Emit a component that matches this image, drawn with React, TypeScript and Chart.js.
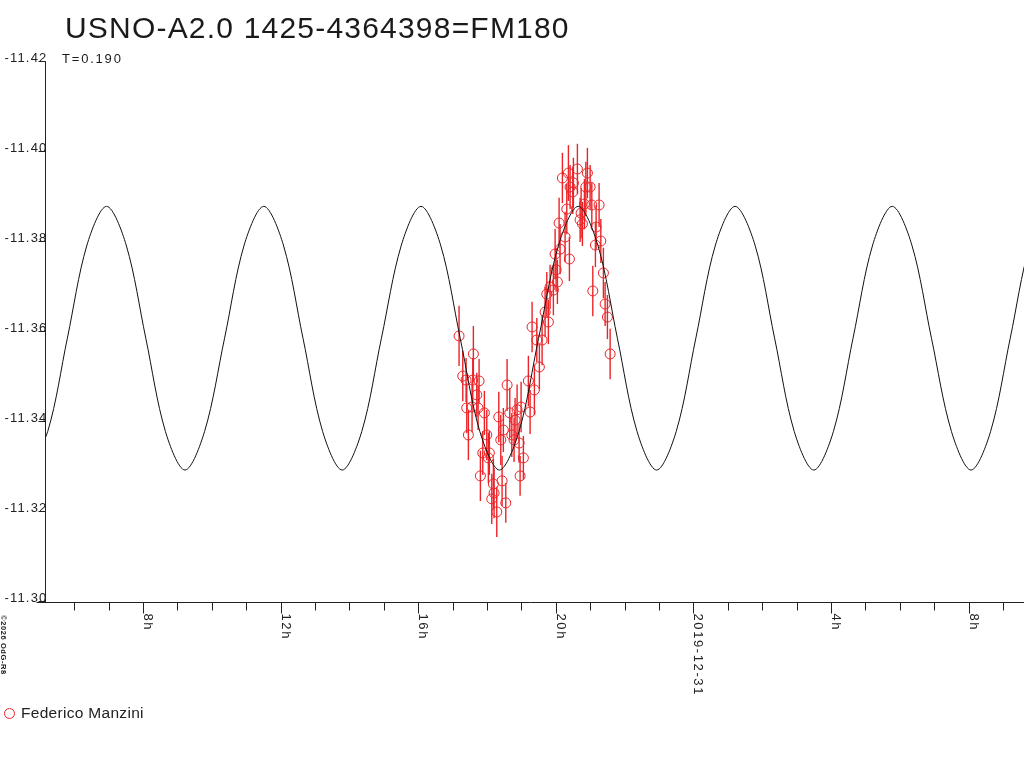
import React, { useEffect, useRef } from "react";
import { Chart, registerables } from "chart.js";

Chart.register(...registerables);

// ---- texts ----
const TITLE = "USNO-A2.0 1425-4364398=FM180";
const SUBTITLE = "T=0.190";
const OBSERVER = "Federico Manzini";
const COPYRIGHT = "©2026 OdG-R8";

// ---- axes (x in hours relative to 2019-12-31 00:00 UT) ----
const X_MIN = -18.85;
const X_MAX = 9.61;
const Y_TOP = -11.42;
const Y_BOTTOM = -11.3;

const xTickHours = [
  -18, -17, -16, -15, -14, -13, -12, -11, -10, -9, -8, -7, -6, -5, -4, -3, -2, -1,
  0, 1, 2, 3, 4, 5, 6, 7, 8, 9,
];
const xLabelHours = [-16, -12, -8, -4, 0, 4, 8];
const xLabelTexts = ["8h", "12h", "16h", "20h", "2019-12-31", "4h", "8h"];

const yTickValues = [-11.42, -11.4, -11.38, -11.36, -11.34, -11.32, -11.3];
const yTickLabels = ["-11.42", "-11.40", "-11.38", "-11.36", "-11.34", "-11.32", "-11.30"];

// ---- observations (Federico Manzini) ----
const obsHours = [
  -6.813, -6.705, -6.609, -6.589, -6.542, -6.435, -6.415, -6.397, -6.298, -6.26,
  -6.231, -6.193, -6.124, -6.077, -6.007, -5.961, -5.932, -5.862, -5.815, -5.795,
  -5.717, -5.658, -5.6, -5.562, -5.525, -5.455, -5.417, -5.339, -5.28, -5.214,
  -5.184, -5.126, -5.068, -5.039, -5.01, -4.943, -4.798, -4.748, -4.69, -4.623,
  -4.553, -4.478, -4.399, -4.312, -4.263, -4.216, -4.167, -4.071, -4.021, -3.992,
  -3.954, -3.905, -3.876, -3.809, -3.731, -3.681, -3.634, -3.605, -3.585, -3.507,
  -3.489, -3.373, -3.294, -3.265, -3.227, -3.169, -3.128, -3.082, -3.003, -2.954,
  -2.925, -2.849, -2.829, -2.742, -2.692, -2.617, -2.567, -2.5, -2.422,
];
const obsMag = [
  -11.3589, -11.35, -11.3491, -11.3429, -11.3369, -11.3431, -11.3491, -11.3549, -11.3458, -11.3429,
  -11.3489, -11.3278, -11.3329, -11.3418, -11.3369, -11.3318, -11.3329, -11.3227, -11.326, -11.324,
  -11.3198, -11.3409, -11.3358, -11.3267, -11.338, -11.3218, -11.348, -11.3418, -11.3369, -11.3358,
  -11.3402, -11.3425, -11.3351, -11.3278, -11.3431, -11.3318, -11.3489, -11.342, -11.3609, -11.3469,
  -11.358, -11.352, -11.358, -11.3642, -11.3682, -11.362, -11.3698, -11.3691, -11.3771, -11.3736,
  -11.3709, -11.384, -11.3782, -11.394, -11.3809, -11.3871, -11.3951, -11.376, -11.392, -11.3909,
  -11.3929, -11.396, -11.3847, -11.3862, -11.3838, -11.3882, -11.392, -11.3951, -11.392, -11.388,
  -11.3689, -11.3791, -11.3831, -11.388, -11.38, -11.3729, -11.366, -11.3631, -11.3549,
];
const obsErr = [
  0.0067, 0.0056, 0.0049, 0.0056, 0.0056, 0.0056, 0.0049, 0.0062, 0.0049, 0.0049,
  0.0049, 0.0056, 0.0049, 0.0049, 0.0056, 0.0056, 0.0049, 0.0056, 0.0056, 0.0056,
  0.0056, 0.0056, 0.0056, 0.0056, 0.0049, 0.0044, 0.0058, 0.0056, 0.0049, 0.0049,
  0.0049, 0.0056, 0.0044, 0.0044, 0.0056, 0.0049, 0.0056, 0.0049, 0.0056, 0.0056,
  0.0049, 0.0049, 0.0056, 0.0056, 0.0049, 0.0049, 0.0049, 0.0056, 0.0056, 0.0049,
  0.0049, 0.0056, 0.0056, 0.0056, 0.0056, 0.0056, 0.0062, 0.0049, 0.0049, 0.0049,
  0.0056, 0.0056, 0.0049, 0.0056, 0.0049, 0.0056, 0.0056, 0.0056, 0.0049, 0.0049,
  0.0056, 0.0049, 0.0049, 0.0049, 0.0049, 0.0056, 0.0049, 0.0049, 0.0056,
];

// ---- fitted light curve, every 1/8 period ----
const curveHours = [
  -19.35, -18.77, -18.2, -17.63, -17.06, -16.49, -15.92, -15.35, -14.78, -14.21,
  -13.63, -13.06, -12.49, -11.92, -11.35, -10.78, -10.21, -9.64, -9.07, -8.49,
  -7.92, -7.35, -6.78, -6.21, -5.64, -5.07, -4.5, -3.92, -3.35, -2.78,
  -2.21, -1.64, -1.07, -0.5, 0.07, 0.64, 1.21, 1.79, 2.36, 2.93,
  3.5, 4.07, 4.64, 5.21, 5.78, 6.35, 6.92, 7.5, 8.07, 8.64,
  9.21, 9.78, 10.35,
];
const curveMag = [
  -11.3291, -11.3377, -11.3584, -11.3791, -11.3877, -11.3791, -11.3584, -11.3377, -11.3291, -11.3377,
  -11.3584, -11.3791, -11.3877, -11.3791, -11.3584, -11.3377, -11.3291, -11.3377, -11.3584, -11.3791,
  -11.3877, -11.3791, -11.3584, -11.3377, -11.3291, -11.3377, -11.3584, -11.3791, -11.3877, -11.3791,
  -11.3584, -11.3377, -11.3291, -11.3377, -11.3584, -11.3791, -11.3877, -11.3791, -11.3584, -11.3377,
  -11.3291, -11.3377, -11.3584, -11.3791, -11.3877, -11.3791, -11.3584, -11.3377, -11.3291, -11.3377,
  -11.3584, -11.3791, -11.3877,
];

const RED = "rgb(236,36,40)";
const FONT = "'Liberation Sans', Arial, Helvetica, sans-serif";

const decorPlugin = {
  id: "decor",
  beforeDatasetsDraw(chart: any) {
    const ctx = chart.ctx as CanvasRenderingContext2D;
    const xs = chart.scales.x;
    const ys = chart.scales.y;
    ctx.save();
    ctx.strokeStyle = RED;
    ctx.lineWidth = 1.4;
    for (let i = 0; i < obsHours.length; i++) {
      const px = xs.getPixelForValue(obsHours[i]);
      const y1 = ys.getPixelForValue(obsMag[i] - obsErr[i]);
      const y2 = ys.getPixelForValue(obsMag[i] + obsErr[i]);
      ctx.beginPath();
      ctx.moveTo(px, y1);
      ctx.lineTo(px, y2);
      ctx.stroke();
    }
    ctx.restore();
  },
  afterDraw(chart: any) {
    const ctx = chart.ctx as CanvasRenderingContext2D;
    const xs = chart.scales.x;
    const ys = chart.scales.y;
    const area = chart.chartArea;
    const axisX = Math.round(area.left) + 0.5;
    const axisY = Math.round(area.bottom) + 1.5;
    ctx.save();
    ctx.strokeStyle = "#222";
    ctx.fillStyle = "#222";
    ctx.lineWidth = 1;

    // y axis line
    ctx.beginPath();
    ctx.moveTo(axisX, Math.round(ys.getPixelForValue(Y_TOP)) + 0.5);
    ctx.lineTo(axisX, axisY);
    ctx.stroke();
    // x axis line
    ctx.beginPath();
    ctx.moveTo(axisX - 9, axisY);
    ctx.lineTo(area.right, axisY);
    ctx.stroke();

    // y ticks and labels
    ctx.font = `13px ${FONT}`;
    (ctx as any).letterSpacing = "1.2px";
    ctx.textAlign = "right";
    ctx.textBaseline = "alphabetic";
    for (let i = 0; i < yTickValues.length; i++) {
      const py = Math.round(ys.getPixelForValue(yTickValues[i])) + 0.5;
      ctx.beginPath();
      ctx.moveTo(axisX - 7, py);
      ctx.lineTo(axisX, py);
      ctx.stroke();
      ctx.fillText(yTickLabels[i], axisX + 2, py);
    }

    // x ticks
    for (const h of xTickHours) {
      const px = Math.round(xs.getPixelForValue(h)) + 0.5;
      const major = xLabelHours.includes(h);
      ctx.beginPath();
      ctx.moveTo(px, axisY);
      ctx.lineTo(px, axisY + (major ? 11 : 8));
      ctx.stroke();
    }
    // x labels, rotated clockwise
    ctx.textAlign = "left";
    (ctx as any).letterSpacing = "1.6px";
    for (let i = 0; i < xLabelHours.length; i++) {
      const px = Math.round(xs.getPixelForValue(xLabelHours[i])) + 0.5;
      ctx.save();
      ctx.translate(px, axisY + 11);
      ctx.rotate(Math.PI / 2);
      ctx.fillText(xLabelTexts[i], 0, 0);
      ctx.restore();
    }

    // title and subtitle
    ctx.fillStyle = "#1a1a1a";
    ctx.font = `30px ${FONT}`;
    (ctx as any).letterSpacing = "1.2px";
    ctx.fillText(TITLE, 65, 38);
    ctx.font = `13px ${FONT}`;
    (ctx as any).letterSpacing = "1.8px";
    ctx.fillText(SUBTITLE, 62, 63);

    // copyright, rotated
    ctx.save();
    ctx.font = `bold 7.5px ${FONT}`;
    (ctx as any).letterSpacing = "0.6px";
    ctx.translate(1, 615);
    ctx.rotate(Math.PI / 2);
    ctx.fillText(COPYRIGHT, 0, 0);
    ctx.restore();

    // legend
    ctx.strokeStyle = RED;
    ctx.beginPath();
    ctx.arc(9.5, 713.5, 5, 0, Math.PI * 2);
    ctx.stroke();
    ctx.fillStyle = "#222";
    ctx.font = `15.5px ${FONT}`;
    (ctx as any).letterSpacing = "0.3px";
    ctx.fillText(OBSERVER, 21, 718);
    ctx.restore();
  },
};

export default function App() {
  const canvasRef = useRef<HTMLCanvasElement | null>(null);

  useEffect(() => {
    document.body.style.margin = "0";
    const canvas = canvasRef.current;
    if (!canvas) return;
    const chart = new Chart(canvas, {
      type: "scatter",
      data: {
        datasets: [
          {
            label: "fit",
            data: curveHours.map((h, i) => ({ x: h, y: curveMag[i] })),
            showLine: true,
            borderColor: "#111",
            borderWidth: 1,
            pointRadius: 0,
            tension: 0.33,
            order: 0,
          } as any,
          {
            label: OBSERVER,
            data: obsHours.map((h, i) => ({ x: h, y: obsMag[i] })),
            showLine: false,
            pointStyle: "circle",
            pointRadius: 5,
            pointBorderWidth: 1,
            pointBorderColor: RED,
            pointBackgroundColor: "rgba(0,0,0,0)",
            order: 1,
          } as any,
        ],
      },
      options: {
        animation: false,
        responsive: true,
        maintainAspectRatio: false,
        events: [],
        layout: { autoPadding: false, padding: { left: 45, top: 61, right: 0, bottom: 167 } },
        plugins: {
          legend: { display: false },
          tooltip: { enabled: false },
          title: { display: false },
        },
        scales: {
          x: { type: "linear", min: X_MIN, max: X_MAX, display: false },
          y: { type: "linear", min: Y_TOP, max: Y_BOTTOM, reverse: true, display: false },
        },
      },
      plugins: [decorPlugin],
    });
    return () => chart.destroy();
  }, []);

  return (
    <div style={{ position: "absolute", left: 0, top: 0, width: 1024, height: 768, background: "#fff" }}>
      <canvas ref={canvasRef} />
    </div>
  );
}
